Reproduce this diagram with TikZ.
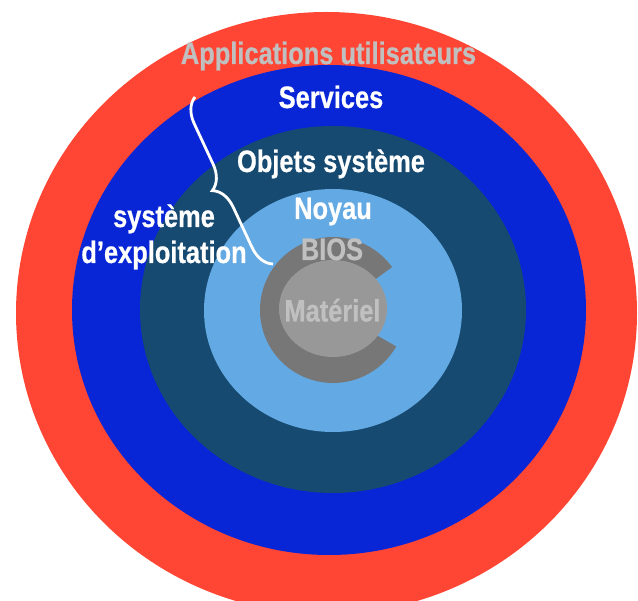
\documentclass[tikz,border=0pt]{standalone}
\usepackage{fontspec}
\newfontfamily\lab[FakeStretch=0.82,BoldFont={Liberation Sans Bold},BoldFeatures={FakeBold=0.6}]{Liberation Sans}
\usetikzlibrary{decorations.pathreplacing}
\definecolor{ringred}{RGB}{255,70,52}
\definecolor{ringblue}{RGB}{8,38,214}
\definecolor{ringdark}{RGB}{23,74,112}
\definecolor{ringlight}{RGB}{99,169,227}
\definecolor{biosgray}{RGB}{119,119,119}
\definecolor{hwgray}{RGB}{152,152,152}
\definecolor{txtgray}{RGB}{192,192,192}
\begin{document}
\begin{tikzpicture}[x=1pt,y=-1pt,
  lbl/.style={inner sep=0pt, anchor=base, font=\lab\bfseries\fontsize{31}{36}\selectfont},
  wlbl/.style={lbl, text=white},
  glbl/.style={lbl, text=txtgray}]
\useasboundingbox (0,0) rectangle (638,601);
\clip (0,0) rectangle (638,601);
% rings
\fill[ringred]   (326.5,313) ellipse [x radius=310.5, y radius=301];
\fill[ringblue]  (329,310)   ellipse [x radius=257, y radius=245];
\fill[ringdark]  (333,309.5) ellipse [x radius=193, y radius=183.5];
\fill[ringlight] (333,310.5) ellipse [x radius=129, y radius=121.5];
% BIOS C-shape
\fill[biosgray] (333,310) -- ++(-36:73) arc[start angle=-36, end angle=-330, radius=73] -- cycle;
\fill[hwgray] (333,308.5) ellipse [x radius=54, y radius=48.5];
% labels
\node[glbl] (apps) at (328.5,64) {Applications utilisateurs};
\node[wlbl] (serv) at (331,108) {Services};
\node[wlbl] (obj) at (331,172) {Objets système};
\node[wlbl] (noy) at (333,219) {Noyau};
\node[glbl] (bios) at (332,260) {BIOS};
\node[glbl] (mat) at (332.5,321.5) {Matériel};
\node[wlbl] (os1) at (164,227) {système};
\node[wlbl] (os2) at (164,263) {d’exploitation};
% brace
\coordinate (bA) at (195,97);
\coordinate (bB) at (273,264);
\draw[white, line width=2.8pt, decorate, decoration={brace, amplitude=24pt}] (bB) -- (bA);
\end{tikzpicture}
\end{document}
